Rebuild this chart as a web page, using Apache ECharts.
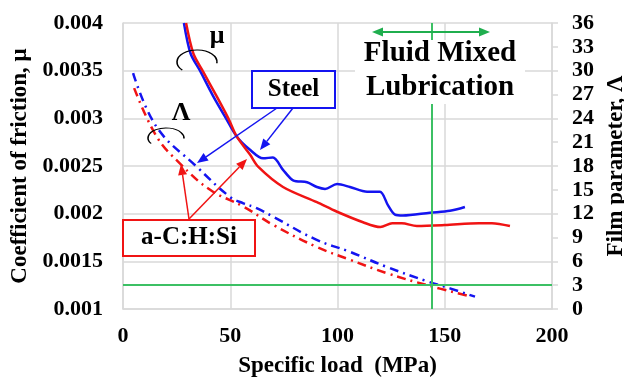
<!DOCTYPE html>
<html><head><meta charset="utf-8">
<script src="https://cdn.jsdelivr.net/npm/echarts@6/dist/echarts.min.js"></script>
<style>html,body{margin:0;padding:0;background:#fff}#c{width:624px;height:378px}</style>
</head><body><div id="c"></div>
<script>
// ---- data ----
const steelMuX = [28.4,31.5,35.9,42.1,48,53,59.2,65.3,69.9,74.6,79.3,85.8,90.4,94.2,99.8,105.8,113.8,119.8,123.5,126.8,130.5,143.1,152.4,159.4];
const steelMuY = [0.0040,0.00368,0.0035,0.00323,0.0030,0.00281,0.00267,0.00258,0.00259,0.00246,0.00235,0.00233,0.00228,0.00226,0.00231,0.00228,0.00223,0.00223,0.00209,0.00199,0.00198,0.00201,0.00203,0.00207];
const sihMuX = [29.4,32.8,37.1,43.7,49.1,53,59.2,63.1,74.6,90.4,99.8,111.9,120,125.5,130,137,150,166,172,180.4];
const sihMuY = [0.0040,0.00368,0.0035,0.00323,0.0030,0.00281,0.00262,0.00249,0.00228,0.00212,0.00202,0.00191,0.00186,0.0019,0.0019,0.00187,0.00188,0.0019,0.0019,0.00187];
const steelLamX = [4.7,15.7,34.4,49.9,56.1,62.3,70.1,90.3,105.8,122.9,141.6,152.4,164.1];
const steelLamY = [29.7,22.9,17.9,14.1,13.3,12.7,11.6,8.7,7.2,5.3,3.5,2.6,1.55];
const sihLamX = [5.2,15.7,26.6,40.6,56.1,69.9,90.4,105.8,123.1,141.7,160.4];
const sihLamY = [27.8,21.7,18.3,15.0,12.9,10.6,7.8,6.2,4.5,3.0,1.7];
const xTicks = [0,50,100,150,200];
const muTickLabels = ['0.001','0.0015','0.002','0.0025','0.003','0.0035','0.004'];
const lamTicks = [0,3,6,9,12,15,18,21,24,27,30,33,36];
const lambdaCritical = [3];
const transitionLoad = [144];

const zip = (a,b) => a.map((v,i)=>[v,b[i]]);
const FONT = '"Liberation Serif","Times New Roman",serif';
const GRID = '#d9d9d9';
const BLUE = '#1414f0', RED = '#f01414', GREEN = '#3cc064', DGREEN = '#1fae4e';

const chart = echarts.init(document.getElementById('c'), null, {renderer:'canvas'});
const lbl = (extra) => Object.assign({fontFamily:FONT, fontWeight:'bold', fontSize:22, color:'#000'}, extra||{});

function arrow(x1,y1,x2,y2,color,w){
  const a = Math.atan2(y2-y1,x2-x1), L=11, W=4.5;
  const bx = x2 - L*Math.cos(a), by = y2 - L*Math.sin(a);
  return [
    {type:'line', z:100, shape:{x1,y1,x2:bx,y2:by}, style:{stroke:color, lineWidth:w||1.5}},
    {type:'polygon', z:100, shape:{points:[[x2,y2],[bx+W*Math.sin(a),by-W*Math.cos(a)],[bx-W*Math.sin(a),by+W*Math.cos(a)]]}, style:{fill:color}}
  ];
}
function ellArc(cx,cy,rx,ry,s,e){
  return {type:'arc', z:100, x:cx, y:cy, scaleY:ry/rx, shape:{cx:0,cy:0,r:rx,startAngle:s,endAngle:e,clockwise:true}, style:{stroke:'#000', lineWidth:1.6, fill:null, strokeNoScale:true}};
}
const txt = (x,y,t,size,extra) => ({type:'text', z:101, x, y, style:Object.assign({text:t, font:'bold '+size+'px '+FONT, fill:'#000', textAlign:'center', textVerticalAlign:'middle'}, extra||{})});

const graphics = [
  {type:'rect', z:99, shape:{x:355,y:40,width:170,height:64}, style:{fill:'#fff'}},
  txt(440,54,'Fluid Mixed',29),
  txt(440,88,'Lubrication',29),
  ...arrow(430,32,490,32,DGREEN,2),
  ...arrow(432,32,372,32,DGREEN,2),
  {type:'rect', z:100, shape:{x:252,y:71,width:83,height:37}, style:{fill:'#fff', stroke:BLUE, lineWidth:2}},
  txt(293.5,90,'Steel',25),
  ...arrow(277,108,197,163,BLUE),
  ...arrow(293,108,260,150,BLUE),
  {type:'rect', z:100, shape:{x:123,y:220,width:132,height:36}, style:{fill:'#fff', stroke:RED, lineWidth:2}},
  txt(189,238,'a-C:H:Si',25),
  ...arrow(189,219,181,164,RED),
  ...arrow(189,219,247,159,RED),
  txt(217,36,'μ',26),
  ellArc(197,62,20,12,2.4,2*Math.PI+0.1),
  txt(181,113,'Λ',26),
  ellArc(166,138,18,10,2.55,2*Math.PI+0.05)
];

chart.setOption({
  animation:false,
  backgroundColor:'#fff',
  grid:{left:123, right:72, top:23, bottom:69, containLabel:false, outerBoundsMode:'none'},
  xAxis:{type:'value', min:xTicks[0], max:xTicks[xTicks.length-1], interval:xTicks[1]-xTicks[0],
    axisLine:{show:true, lineStyle:{color:GRID, width:1.5}}, axisTick:{show:false},
    splitLine:{show:true, lineStyle:{color:GRID, width:1.5}},
    axisLabel:lbl({margin:16}),
    name:'Specific load  (MPa)', nameLocation:'middle', nameGap:46, nameTextStyle:lbl({fontSize:23})},
  yAxis:[
    {type:'value', min:0.001, max:0.004, interval:0.0005, position:'left',
      axisLine:{show:true, lineStyle:{color:GRID, width:1.5}}, axisTick:{show:false},
      splitLine:{show:true, lineStyle:{color:GRID, width:1.5}},
      axisLabel:lbl({margin:20, formatter:v=>muTickLabels[Math.round((v-0.001)/0.0005)]}),
      name:'Coefficient of friction, μ', nameLocation:'middle', nameGap:88, nameTextStyle:lbl({fontSize:23})},
    {type:'value', min:lamTicks[0], max:lamTicks[lamTicks.length-1], interval:lamTicks[1]-lamTicks[0], position:'right',
      axisLine:{show:true, lineStyle:{color:GRID, width:1.5}},
      axisTick:{show:true, length:6, lineStyle:{color:GRID, width:1.5}},
      splitLine:{show:false},
      axisLabel:lbl({margin:20}),
      name:'Film parameter, Λ', nameLocation:'middle', nameGap:50, nameRotate:90, nameTextStyle:lbl({fontSize:23})}
  ],
  series:[
    {type:'line', name:'Steel μ', yAxisIndex:0, data:zip(steelMuX,steelMuY), smooth:0.3, showSymbol:false, lineStyle:{color:BLUE, width:2.5}},
    {type:'line', name:'a-C:H:Si μ', yAxisIndex:0, data:zip(sihMuX,sihMuY), smooth:0.3, showSymbol:false, lineStyle:{color:RED, width:2.5}},
    {type:'line', name:'a-C:H:Si Λ', yAxisIndex:1, data:zip(sihLamX,sihLamY), smooth:0.4, showSymbol:false, lineStyle:{color:RED, width:2.5, type:[9,5,2,5]}},
    {type:'line', name:'Steel Λ', yAxisIndex:1, data:zip(steelLamX,steelLamY), smooth:0.4, showSymbol:false, lineStyle:{color:BLUE, width:2.5, type:[9,5,2,5]},
      markLine:{symbol:'none', silent:true, label:{show:false}, lineStyle:{color:GREEN, width:2, type:'solid'},
        data:[{yAxis:lambdaCritical[0]},{xAxis:transitionLoad[0]}]}}
  ],
  graphic:graphics
});
</script></body></html>
